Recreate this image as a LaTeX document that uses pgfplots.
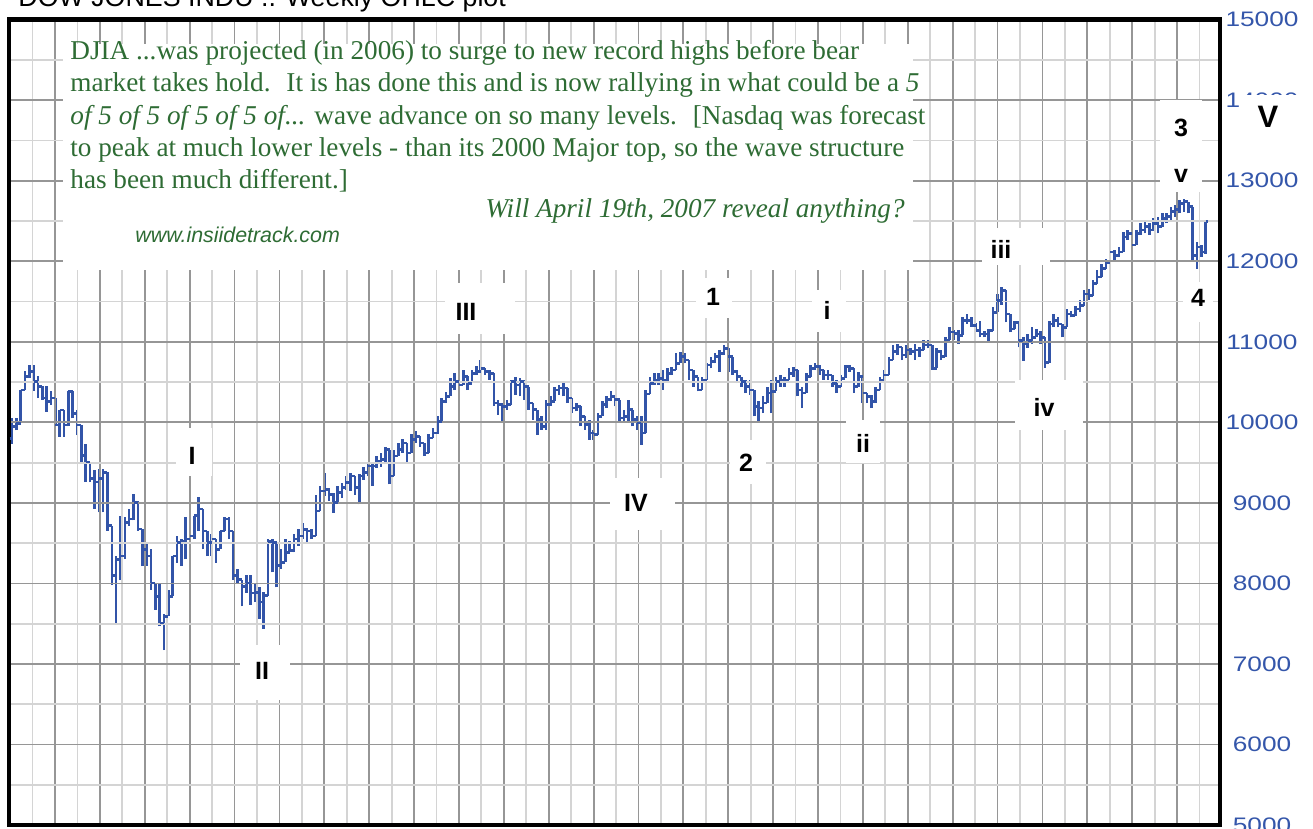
\documentclass[border=0pt]{standalone}
\usepackage{pgfplots}
\pgfplotsset{compat=1.18}
\usepackage{pgfplotstable}
\usepackage{graphicx}
\usepackage{fontspec}
\setmainfont{Liberation Serif}
\newfontfamily\arial{Liberation Sans}
\definecolor{ohlc}{RGB}{50,84,168}
\definecolor{tickblue}{RGB}{52,86,170}
\definecolor{txtgreen}{RGB}{46,108,52}
\definecolor{gdark}{RGB}{150,150,150}
\definecolor{glight}{RGB}{212,212,212}
\newcommand\tl[1]{\scalebox{1.25}[1]{#1}}
\pgfdeclareplotmark{nothing}{}
\pgfdeclareplotmark{otick}{\pgfpathmoveto{\pgfqpoint{-1.2pt}{0pt}}\pgfpathlineto{\pgfqpoint{0pt}{0pt}}\pgfusepathqstroke}
\pgfdeclareplotmark{ctick}{\pgfpathmoveto{\pgfqpoint{0pt}{0pt}}\pgfpathlineto{\pgfqpoint{1.2pt}{0pt}}\pgfusepathqstroke}
\pgfplotstableread{
w H L O C
1 10050 9737 9800 9950
2 10050 9900 9950 9987
3 10404 9987 9987 10404
4 10634 10404 10404 10570
5 10717 10550 10570 10634
6 10717 10384 10634 10509
7 10571 10300 10509 10446
8 10446 10280 10446 10300
9 10446 10133 10300 10259
10 10384 10217 10259 10300
11 10300 9967 10300 9967
12 10154 9821 9967 10154
13 10154 9821 10154 9967
14 10384 9950 9967 10384
15 10384 10050 10384 10113
16 10154 9842 10113 9967
17 9967 9487 9967 9591
18 9737 9258 9591 9508
19 9508 9258 9508 9299
20 9404 8924 9299 9258
21 9425 8882 9258 9299
22 9425 8882 9299 9380
23 9380 8653 9380 8716
24 8716 7986 8716 8100
25 8340 7506 8100 8299
26 8841 8048 8299 8340
27 8820 8300 8340 8757
28 8924 8716 8757 8799
29 9112 8782 8799 9008
30 9028 8653 9008 8674
31 8674 8215 8674 8424
32 8500 8215 8424 8340
33 8424 7923 8340 8007
34 8007 7673 8007 7840
35 8007 7465 7840 7506
36 7620 7173 7506 7590
37 7923 7590 7590 7840
38 8340 7840 7840 8340
39 8590 8257 8340 8507
40 8549 8215 8507 8528
41 8820 8299 8528 8549
42 8610 8382 8549 8590
43 8841 8549 8590 8841
44 9070 8653 8841 8924
45 8924 8424 8924 8653
46 8653 8340 8653 8507
47 8611 8340 8507 8549
48 8549 8257 8549 8424
49 8653 8424 8424 8653
50 8820 8653 8653 8799
51 8820 8549 8799 8653
52 8653 8048 8653 8100
53 8174 8007 8100 8048
54 8048 7715 8048 7965
55 8100 7882 7965 8007
56 8100 7736 8007 7882
57 7994 7767 7882 7890
58 7950 7561 7890 7767
59 7890 7437 7767 7849
60 8550 7849 7849 8520
61 8550 8138 8520 8509
62 8509 7952 8509 8220
63 8426 8179 8220 8261
64 8550 8261 8261 8385
65 8530 8385 8385 8406
66 8612 8385 8406 8550
67 8673 8467 8550 8591
68 8756 8550 8591 8673
69 8694 8509 8673 8653
70 8673 8550 8653 8591
71 9100 8591 8591 8900
72 9210 8900 8900 9147
73 9374 9085 9147 9168
74 9190 9024 9168 9106
75 9127 8880 9106 9003
76 9210 9000 9003 9127
77 9250 9060 9127 9188
78 9330 9160 9188 9250
79 9374 9150 9250 9333
80 9333 9100 9333 9188
81 9353 8980 9188 9333
82 9450 9290 9333 9374
83 9490 9330 9374 9456
84 9500 9210 9456 9456
85 9580 9435 9456 9518
86 9620 9450 9518 9539
87 9700 9480 9539 9662
88 9662 9230 9662 9333
89 9662 9333 9333 9580
90 9745 9580 9580 9662
91 9790 9620 9662 9745
92 9745 9500 9745 9620
93 9850 9620 9620 9786
94 9890 9745 9786 9827
95 9827 9700 9827 9745
96 9745 9580 9745 9620
97 9850 9620 9620 9806
98 9930 9800 9806 9868
99 10080 9860 9868 10012
100 10300 10012 10012 10260
101 10380 10240 10260 10321
102 10545 10321 10321 10445
103 10610 10400 10445 10507
104 10565 10420 10507 10465
105 10650 10465 10465 10569
106 10570 10400 10569 10486
107 10650 10486 10486 10610
108 10700 10590 10610 10630
109 10770 10610 10630 10672
110 10680 10590 10672 10630
111 10650 10530 10630 10610
112 10610 10200 10610 10240
113 10280 10095 10240 10218
114 10239 9992 10218 10198
115 10280 10156 10198 10218
116 10527 10218 10218 10506
117 10568 10342 10506 10465
118 10547 10321 10465 10506
119 10527 10280 10506 10444
120 10444 10156 10444 10239
121 10239 10033 10239 10156
122 10156 9848 10156 10033
123 10074 9910 10033 9951
124 10280 9910 9951 10218
125 10321 10198 10218 10259
126 10444 10259 10259 10403
127 10465 10342 10403 10424
128 10506 10321 10424 10424
129 10424 10239 10424 10300
130 10300 10115 10300 10177
131 10239 10136 10177 10198
132 10198 9951 10198 10074
133 10074 9910 10074 9972
134 10033 9786 9972 9868
135 9910 9786 9868 9848
136 10115 9848 9848 10074
137 10259 10074 10074 10218
138 10321 10177 10218 10280
139 10383 10259 10280 10321
140 10321 10198 10321 10280
141 10280 10012 10280 10053
142 10156 9992 10053 10074
143 10280 9992 10074 10156
144 10156 9951 10156 10033
145 10074 9910 10033 9992
146 10074 9724 9992 9868
147 10403 9868 9868 10350
148 10568 10350 10350 10486
149 10609 10465 10486 10527
150 10609 10465 10527 10547
151 10650 10403 10547 10527
152 10671 10506 10527 10609
153 10691 10589 10609 10650
154 10856 10650 10650 10733
155 10876 10733 10733 10815
156 10856 10733 10815 10774
157 10774 10527 10774 10650
158 10650 10444 10650 10568
159 10568 10383 10568 10403
160 10568 10403 10403 10527
161 10733 10527 10527 10712
162 10815 10671 10712 10753
163 10856 10733 10753 10815
164 10897 10630 10815 10856
165 10960 10835 10856 10918
166 10918 10630 10918 10815
167 10815 10589 10815 10630
168 10650 10486 10630 10568
169 10568 10444 10568 10506
170 10527 10362 10506 10444
171 10527 10342 10444 10403
172 10403 10074 10403 10198
173 10259 10012 10198 10177
174 10321 10115 10177 10239
175 10444 10239 10239 10362
176 10527 10115 10362 10383
177 10568 10383 10383 10506
178 10589 10444 10506 10527
179 10568 10444 10527 10527
180 10671 10527 10527 10609
181 10691 10568 10609 10650
182 10650 10321 10650 10403
183 10444 10177 10403 10362
184 10609 10362 10362 10568
185 10712 10568 10568 10671
186 10733 10650 10671 10691
187 10712 10589 10691 10650
188 10650 10527 10650 10589
189 10650 10527 10589 10589
190 10589 10444 10589 10486
191 10527 10362 10486 10444
192 10589 10444 10444 10547
193 10712 10547 10547 10691
194 10712 10630 10691 10671
195 10671 10362 10671 10444
196 10630 10444 10444 10568
197 10589 10239 10568 10362
198 10362 10239 10362 10321
199 10342 10177 10321 10259
200 10444 10239 10259 10403
201 10568 10403 10403 10527
202 10650 10527 10527 10589
203 10815 10589 10589 10774
204 10959 10774 10774 10877
205 10979 10835 10877 10938
206 10938 10774 10938 10835
207 10959 10800 10835 10897
208 10918 10835 10897 10877
209 10979 10774 10877 10897
210 10938 10815 10897 10897
211 11021 10897 10897 10959
212 11021 10918 10959 10959
213 10959 10650 10959 10671
214 10918 10671 10671 10877
215 10897 10774 10877 10815
216 11062 10815 10815 11021
217 11185 11021 11021 11123
218 11144 11021 11123 11103
219 11144 10979 11103 11082
220 11309 11082 11082 11267
221 11350 11226 11267 11267
222 11309 11185 11267 11205
223 11230 11120 11205 11144
224 11263 11054 11144 11096
225 11138 11054 11096 11096
226 11158 11013 11096 11138
227 11429 11138 11138 11367
228 11596 11367 11367 11513
229 11679 11458 11513 11638
230 11638 11242 11638 11346
231 11346 11117 11346 11158
232 11263 11158 11158 11242
233 11242 10930 11242 11013
234 11054 10763 11013 10971
235 11096 10929 10971 11013
236 11179 10971 11013 11054
237 11158 11054 11054 11096
238 11138 10971 11096 11054
239 11054 10679 11054 10742
240 11263 10742 10742 11221
241 11346 11179 11221 11263
242 11304 11179 11263 11221
243 11221 11054 11221 11179
244 11408 11179 11179 11346
245 11388 11304 11346 11325
246 11450 11325 11325 11408
247 11513 11367 11408 11450
248 11638 11450 11450 11596
249 11658 11513 11596 11575
250 11763 11575 11575 11721
251 11888 11721 11721 11804
252 11971 11804 11804 11908
253 12034 11908 11908 11980
254 12179 11980 11980 12117
255 12138 12013 12117 12075
256 12179 12054 12075 12117
257 12367 12117 12117 12304
258 12388 12263 12304 12346
259 12346 12138 12346 12200
260 12388 12200 12200 12346
261 12471 12325 12346 12388
262 12492 12346 12388 12429
263 12471 12325 12429 12388
264 12533 12388 12388 12471
265 12554 12346 12471 12429
266 12596 12429 12429 12533
267 12596 12471 12533 12554
268 12679 12513 12554 12617
269 12700 12554 12617 12646
270 12763 12596 12646 12721
271 12770 12617 12721 12742
272 12742 12596 12742 12679
273 12679 12013 12679 12075
274 12242 11908 12075 12179
275 12200 12054 12179 12117
276 12513 12096 12117 12492
}\djia
\begin{document}
\begin{tikzpicture}
\begin{axis}[name=ax, at={(0,0)}, anchor=south west,
  scale only axis, width=605.5pt, height=402.65pt,
  xmin=0.31, xmax=279.3, ymin=5000, ymax=15000,
  xtick={10.91,21.25,...,279}, minor xtick={5.74,16.08,...,279},
  xticklabels={},
  ytick={5000,6000,...,15000}, minor ytick={5500,6500,...,14500},
  yticklabels={\tl{5000},\tl{6000},\tl{7000},\tl{8000},\tl{9000},\tl{10000},\tl{11000},\tl{12000},\tl{13000},\tl{14000},\tl{15000}},
  yticklabel pos=right,
  y tick label style={font=\arial\fontsize{10.5}{12}\selectfont, text=tickblue, anchor=center, xshift=21pt},
  major tick length=0pt, minor tick length=0pt,
  grid=both,
  major grid style={draw=gdark, line width=0.9pt},
  minor grid style={draw=glight, line width=0.9pt},
  axis line style={draw=black, line width=2.4pt},
  axis on top,
]
\addplot[ohlc, only marks, mark=nothing,
  error bars/.cd, y dir=plus, y explicit, error mark=none,
  error bar style={line width=1.3pt, ohlc}]
  table[x=w, y=L, y error expr=\thisrow{H}-\thisrow{L}] {\djia};
\addplot[ohlc, only marks, mark=otick, mark options={line width=1.3pt, solid}] table[x=w, y=O] {\djia};
\addplot[ohlc, only marks, mark=ctick, mark options={line width=1.3pt, solid}] table[x=w, y=C] {\djia};
\end{axis}
\begin{scope}[shift={(ax.south west)}, xshift=-4.5pt, yshift=412.5pt, x=0.5pt, y=-0.5pt]
  % title (cut off at the top)
  \node[anchor=base west, inner sep=0pt, font=\arial\fontsize{13.4}{15}\selectfont] at (18,7) {DOW JONES INDU .. Weekly OHLC plot};
  % main annotation box
  \fill[white] (63,44) rectangle (913,270);
  \begin{scope}[every node/.style={anchor=base west, inner sep=0pt, text=txtgreen, font=\fontsize{13.6}{16}\selectfont}]
    \node at (70,60) {DJIA ...was projected (in 2006) to surge to new record highs before bear};
    \node at (70,92) {market takes hold.~ It is has done this and is now rallying in what could be a \textit{5}};
    \node at (70,125) {\textit{of 5 of 5 of 5 of 5 of...} wave advance on so many levels.~ [Nasdaq was forecast};
    \node at (70,157) {to peak at much lower levels - than its 2000 Major top, so the wave structure};
    \node at (70,189) {has been much different.]};
    \node[anchor=base east] at (905,218) {\textit{Will April 19th, 2007 reveal anything?}};
    \node[font=\arial\itshape\fontsize{10.7}{12}\selectfont] at (135,243) {www.insiidetrack.com};
  \end{scope}
  % label boxes
  \fill[white] (176,428) rectangle (212,476);
  \fill[white] (240,645) rectangle (290,700);
  \fill[white] (445,283) rectangle (515,334);
  \fill[white] (610,478) rectangle (675,530);
  \fill[white] (696,278) rectangle (732,318);
  \fill[white] (730,440) rectangle (766,484);
  \fill[white] (812,290) rectangle (846,332);
  \fill[white] (846,420) rectangle (880,463);
  \fill[white] (982,228) rectangle (1050,265);
  \fill[white] (1015,380) rectangle (1083,430);
  \fill[white] (1160,100) rectangle (1202,192);
  \fill[white] (1183,282) rectangle (1213,322);
  \fill[white] (1240,95) rectangle (1300,145);
  \begin{scope}[every node/.style={inner sep=0pt, font=\arial\bfseries\fontsize{12.5}{14}\selectfont}]
    \node at (192,456) {I};
    \node at (262,671) {II};
    \node at (466,312) {III};
    \node at (636,503) {IV};
    \node at (713,297) {1};
    \node at (746,463) {2};
    \node at (827,310) {i};
    \node at (863,443) {ii};
    \node at (1001,249) {iii};
    \node at (1044,407) {iv};
    \node at (1181,128) {3};
    \node at (1181,176) {v};
    \node at (1198,298) {4};
    \node[font=\arial\bfseries\fontsize{15.5}{17}\selectfont] at (1268,117) {V};
  \end{scope}
\end{scope}
\pgfresetboundingbox
\path[use as bounding box] ([xshift=-4.5pt,yshift=-2pt]ax.south west) rectangle ([xshift=46.5pt,yshift=9.85pt]ax.north east);
\end{tikzpicture}
\end{document}
